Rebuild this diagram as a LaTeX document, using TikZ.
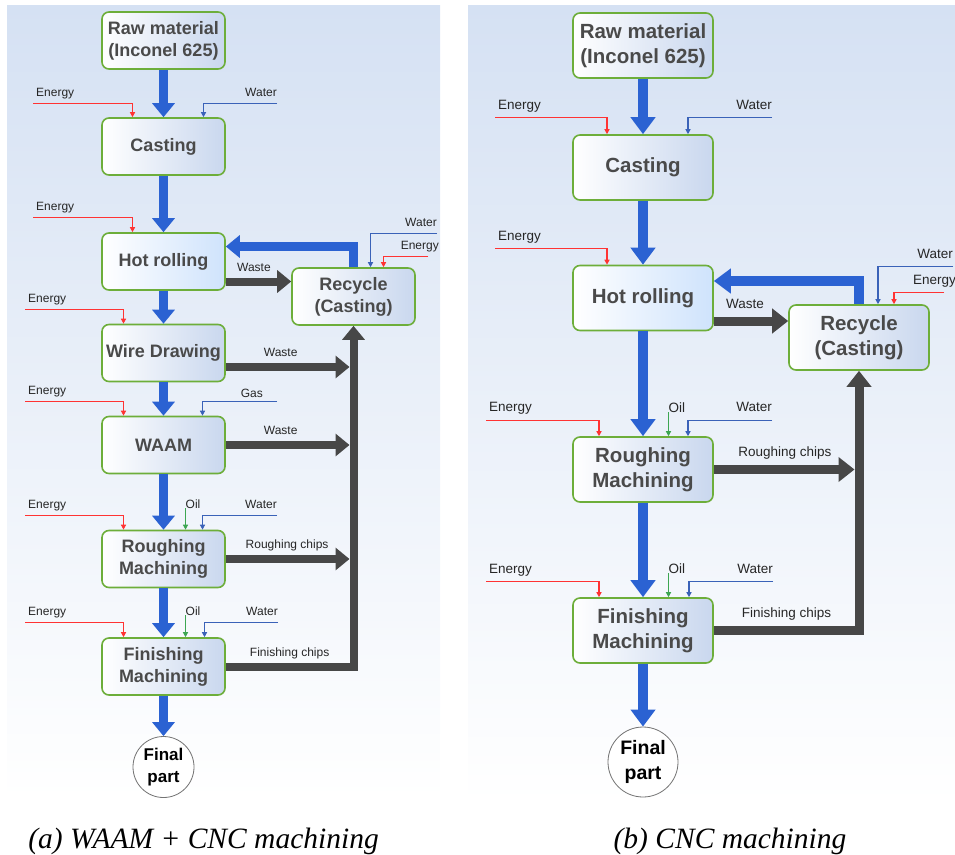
\documentclass[tikz,border=0pt]{standalone}
\usepackage{fontspec}
\setmainfont{Liberation Serif}
\setsansfont{Liberation Sans}
\usetikzlibrary{arrows.meta}
\usetikzlibrary{positioning}

\definecolor{bgblue}{HTML}{D5E1F3}
\definecolor{boxgreen}{HTML}{6DAE3A}
\definecolor{boxblue}{HTML}{C9D7EE}
\definecolor{hotblue}{HTML}{CFE3FC}
\definecolor{flowblue}{HTML}{2B62D2}
\definecolor{wastegrey}{HTML}{474747}
\definecolor{boxtext}{HTML}{4A4A4A}
\definecolor{energyred}{HTML}{FF3333}
\definecolor{waterblue}{HTML}{3A62B8}
\definecolor{oilgreen}{HTML}{3DA652}
\definecolor{lbltext}{HTML}{262626}

\begin{document}
\begin{tikzpicture}[x=1pt, y=-1pt, node distance=100pt,
    proc/.style={rectangle, rounded corners=7pt, draw=boxgreen, line width=1.6pt,
      left color=white, right color=boxblue, text=boxtext, align=center,
      minimum width=123pt, minimum height=57pt, inner sep=1pt,
      font=\sffamily\bfseries\fontsize{18}{22}\selectfont},
    procb/.style={proc, minimum width=140pt, minimum height=65pt,
      font=\sffamily\bfseries\fontsize{20.5}{25}\selectfont},
    final/.style={circle, draw=black!55, line width=0.8pt, fill=white, text=black,
      minimum size=61pt, inner sep=0pt, align=center,
      font=\sffamily\bfseries\fontsize{17}{22}\selectfont},
    finalb/.style={final, minimum size=70pt, font=\sffamily\bfseries\fontsize{19.5}{25}\selectfont},
    flow/.style={color=flowblue, line width=9pt, -{Triangle[width=22pt,length=14pt]}},
    flowb/.style={color=flowblue, line width=10pt, -{Triangle[width=24pt,length=17pt]}},
    waste/.style={color=wastegrey, line width=8pt, -{Triangle[width=22pt,length=14pt]}},
    wasteb/.style={color=wastegrey, line width=9pt, -{Triangle[width=24pt,length=16pt]}},
    energy/.style={color=energyred, line width=1.3pt, -{Triangle[width=5pt,length=5pt]}},
    water/.style={energy, color=waterblue},
    oil/.style={energy, color=oilgreen},
    lbl/.style={text=lbltext, inner sep=0pt, font=\sffamily\fontsize{12}{14}\selectfont},
    lblb/.style={lbl, font=\sffamily\fontsize{13.5}{16}\selectfont},
    elbl/.style={anchor=base west, xshift=3pt, yshift=6.7pt},
    wlbl/.style={anchor=base east, yshift=6.7pt},
    olbl/.style={anchor=base west},
    clbl/.style={lbl, anchor=base, yshift=10.5pt},
    clblb/.style={lblb, anchor=base, yshift=13pt}]

  \useasboundingbox (0,0) rectangle (955,854);
  \fill [top color=bgblue, bottom color=white] (7,5) rectangle (440,800);
  \fill [top color=bgblue, bottom color=white] (468,5) rectangle (955,803);

  % (a) WAAM + CNC
  \node [proc] (raw) at (163.5,40.5) {Raw material\\(Inconel 625)};
  \node [proc] (cast) [below of = raw, node distance=106pt] {Casting};
  \node [proc, right color=hotblue] (hot) [below of = cast, node distance=115pt] {Hot rolling};
  \node [proc] (wire) [below of = hot, node distance=91.5pt] {Wire Drawing};
  \node [proc] (waam) [below of = wire, node distance=92pt] {WAAM};
  \node [proc] (rough) [below of = waam, node distance=114pt] {Roughing\\Machining};
  \node [proc] (fin) [below of = rough, node distance=107.5pt] {Finishing\\Machining};
  \node [final] (part) [below of = fin, node distance=100.5pt] {Final\\part};
  \node [proc] (rec) [right of = hot, node distance=190pt, yshift=-35pt] {Recycle\\(Casting)};

  \path [flow] (raw) edge (cast)
               (cast) edge (hot)
               (hot) edge (wire)
               (wire) edge (waam)
               (waam) edge (rough)
               (rough) edge (fin)
               (fin) edge (part);
  \draw [flow] (rec.north) |- ([yshift=15pt]hot.east);

  \coordinate (jwire) at (353.5,367);
  \coordinate (jwaam) at (353.5,445);
  \coordinate (jrough) at (353.5,559);
  \coordinate (jfin) at (353.5,666.5);
  \draw [waste] ([yshift=-20pt]hot.east) -- node [clbl, pos=0.43] {Waste} ([yshift=15pt]rec.west);
  \draw [waste, shorten >=4pt] (wire.east |- jwire) -- node [clbl, pos=0.43] {Waste} (jwire);
  \draw [waste, shorten >=4pt] (waam) -- node [clbl, pos=0.43] {Waste} (jwaam);
  \draw [waste, shorten >=4pt] (rough) -- node [clbl, pos=0.48] {Roughing chips} (jrough);
  \draw [waste] (fin) -- node [clbl] {Finishing chips} (jfin) -- (rec);

  \coordinate (ecast) at (33,103.5);
  \coordinate (wcast) at (277,103.5);
  \coordinate (ehot) at (33,217.5);
  \coordinate (wrec) at (437,233.5);
  \coordinate (erec) at (428,256.5);
  \coordinate (ewire) at (25,309.5);
  \coordinate (ewaam) at (25,401.5);
  \coordinate (gwaam) at (277,401.5);
  \coordinate (erough) at (25,515.5);
  \coordinate (orough) at (185.5,508);
  \coordinate (wrough) at (277,515.5);
  \coordinate (efin) at (25,622.5);
  \coordinate (ofin) at (185.5,615);
  \coordinate (wfin) at (278,622.5);

  \draw [energy] (ecast) -| ([xshift=-31pt]cast.north);
  \draw [water] (wcast) -| ([xshift=40pt]cast.north);
  \draw [energy] (ehot) -| ([xshift=-31pt]hot.north);
  \draw [water] (wrec) -| ([xshift=17pt]rec.north);
  \draw [energy] (erec) -| ([xshift=30pt]rec.north);
  \draw [energy] (ewire) -| ([xshift=-40pt]wire.north);
  \draw [energy] (ewaam) -| ([xshift=-40pt]waam.north);
  \draw [water] (gwaam) -| ([xshift=39pt]waam.north);
  \draw [energy] (erough) -| ([xshift=-40pt]rough.north);
  \draw [oil] (orough) -- (orough |- rough.north);
  \draw [water] (wrough) -| ([xshift=39pt]rough.north);
  \draw [energy] (efin) -| ([xshift=-40pt]fin.north);
  \draw [oil] (ofin) -- (ofin |- fin.north);
  \draw [water] (wfin) -| ([xshift=41pt]fin.north);

  \node [lbl, elbl] (lecast) at (ecast) {Energy};
  \node [lbl, wlbl] (lwcast) at (wcast) {Water};
  \node [lbl, elbl] (lehot) at (ehot) {Energy};
  \node [lbl, wlbl] (lwrec) at (wrec) {Water};
  \node [lbl, wlbl, xshift=11pt] (lerec) at (erec) {Energy};
  \node [lbl, elbl] (lewire) at (ewire) {Energy};
  \node [lbl, elbl] (lewaam) at (ewaam) {Energy};
  \node [lbl, wlbl, xshift=-14pt, yshift=-3pt] (lgwaam) at (gwaam) {Gas};
  \node [lbl, elbl] (lerough) at (erough) {Energy};
  \node [lbl, olbl] (lorough) at (orough) {Oil};
  \node [lbl, wlbl] (lwrough) at (wrough) {Water};
  \node [lbl, elbl] (lefin) at (efin) {Energy};
  \node [lbl, olbl] (lofin) at (ofin) {Oil};
  \node [lbl, wlbl] (lwfin) at (wfin) {Water};

  % (b) CNC only
  \node [procb] (rawb) at (643,45.5) {Raw material\\(Inconel 625)};
  \node [procb] (castb) [below of = rawb, node distance=122pt] {Casting};
  \node [procb, right color=hotblue] (hotb) [below of = castb, node distance=130.5pt] {Hot rolling};
  \node [procb] (roughb) [below of = hotb, node distance=171.5pt] {Roughing\\Machining};
  \node [procb] (finb) [below of = roughb, node distance=161pt] {Finishing\\Machining};
  \node [finalb] (partb) [below of = finb, node distance=131.5pt] {Final\\part};
  \node [procb] (recb) [right of = hotb, node distance=216pt, yshift=-39.5pt] {Recycle\\(Casting)};

  \path [flowb] (rawb) edge (castb)
                (castb) edge (hotb)
                (hotb) edge (roughb)
                (roughb) edge (finb)
                (finb) edge (partb);
  \draw [flowb] (recb.north) |- ([yshift=17pt]hotb.east);

  \coordinate (jroughb) at (859,469.5);
  \coordinate (jfinb) at (859,630.5);
  \draw [wasteb] ([yshift=-23pt]hotb.east) -- node [clblb, pos=0.42] {Waste} ([yshift=16.5pt]recb.west);
  \draw [wasteb, shorten >=4.5pt] (roughb) -- node [clblb, pos=0.49] {Roughing chips} (jroughb);
  \draw [wasteb] (finb) -- node [clblb] {Finishing chips} (jfinb) -- (recb);

  \coordinate (ecastb) at (495,117.5);
  \coordinate (wcastb) at (772,117.5);
  \coordinate (ehotb) at (495,248.5);
  \coordinate (wrecb) at (953,266.5);
  \coordinate (erecb) at (944,292.5);
  \coordinate (eroughb) at (486,420.5);
  \coordinate (oroughb) at (668.5,412);
  \coordinate (wroughb) at (772,420.5);
  \coordinate (efinb) at (486,581.5);
  \coordinate (ofinb) at (668.5,573);
  \coordinate (wfinb) at (773,581.5);

  \draw [energy] (ecastb) -| ([xshift=-36pt]castb.north);
  \draw [water] (wcastb) -| ([xshift=45pt]castb.north);
  \draw [energy] (ehotb) -| ([xshift=-36pt]hotb.north);
  \draw [water] (wrecb) -| ([xshift=19pt]recb.north);
  \draw [energy] (erecb) -| ([xshift=35pt]recb.north);
  \draw [energy] (eroughb) -| ([xshift=-44pt]roughb.north);
  \draw [oil] (oroughb) -- (oroughb |- roughb.north);
  \draw [water] (wroughb) -| ([xshift=45pt]roughb.north);
  \draw [energy] (efinb) -| ([xshift=-44pt]finb.north);
  \draw [oil] (ofinb) -- (ofinb |- finb.north);
  \draw [water] (wfinb) -| ([xshift=46pt]finb.north);

  \node [lblb, elbl, yshift=1pt] (lecastb) at (ecastb) {Energy};
  \node [lblb, wlbl, yshift=1pt] (lwcastb) at (wcastb) {Water};
  \node [lblb, elbl, yshift=1pt] (lehotb) at (ehotb) {Energy};
  \node [lblb, wlbl, yshift=1.5pt] (lwrecb) at (wrecb) {Water};
  \node [lblb, elbl, xshift=-34pt, yshift=1.5pt] (lerecb) at (erecb) {Energy};
  \node [lblb, elbl, yshift=2pt] (leroughb) at (eroughb) {Energy};
  \node [lblb, olbl] (loroughb) at (oroughb) {Oil};
  \node [lblb, wlbl, yshift=2pt] (lwroughb) at (wroughb) {Water};
  \node [lblb, elbl, yshift=1.5pt] (lefinb) at (efinb) {Energy};
  \node [lblb, olbl] (lofinb) at (ofinb) {Oil};
  \node [lblb, wlbl, yshift=1.5pt] (lwfinb) at (wfinb) {Water};

  % captions
  \node [anchor=base, font=\itshape\fontsize{29.5}{34}\selectfont] (capa) at (203.5,848) {(a) WAAM + CNC machining};
  \node [anchor=base, font=\itshape\fontsize{29.5}{34}\selectfont] (capb) at (730,848) {(b) CNC machining};
\end{tikzpicture}
\end{document}
